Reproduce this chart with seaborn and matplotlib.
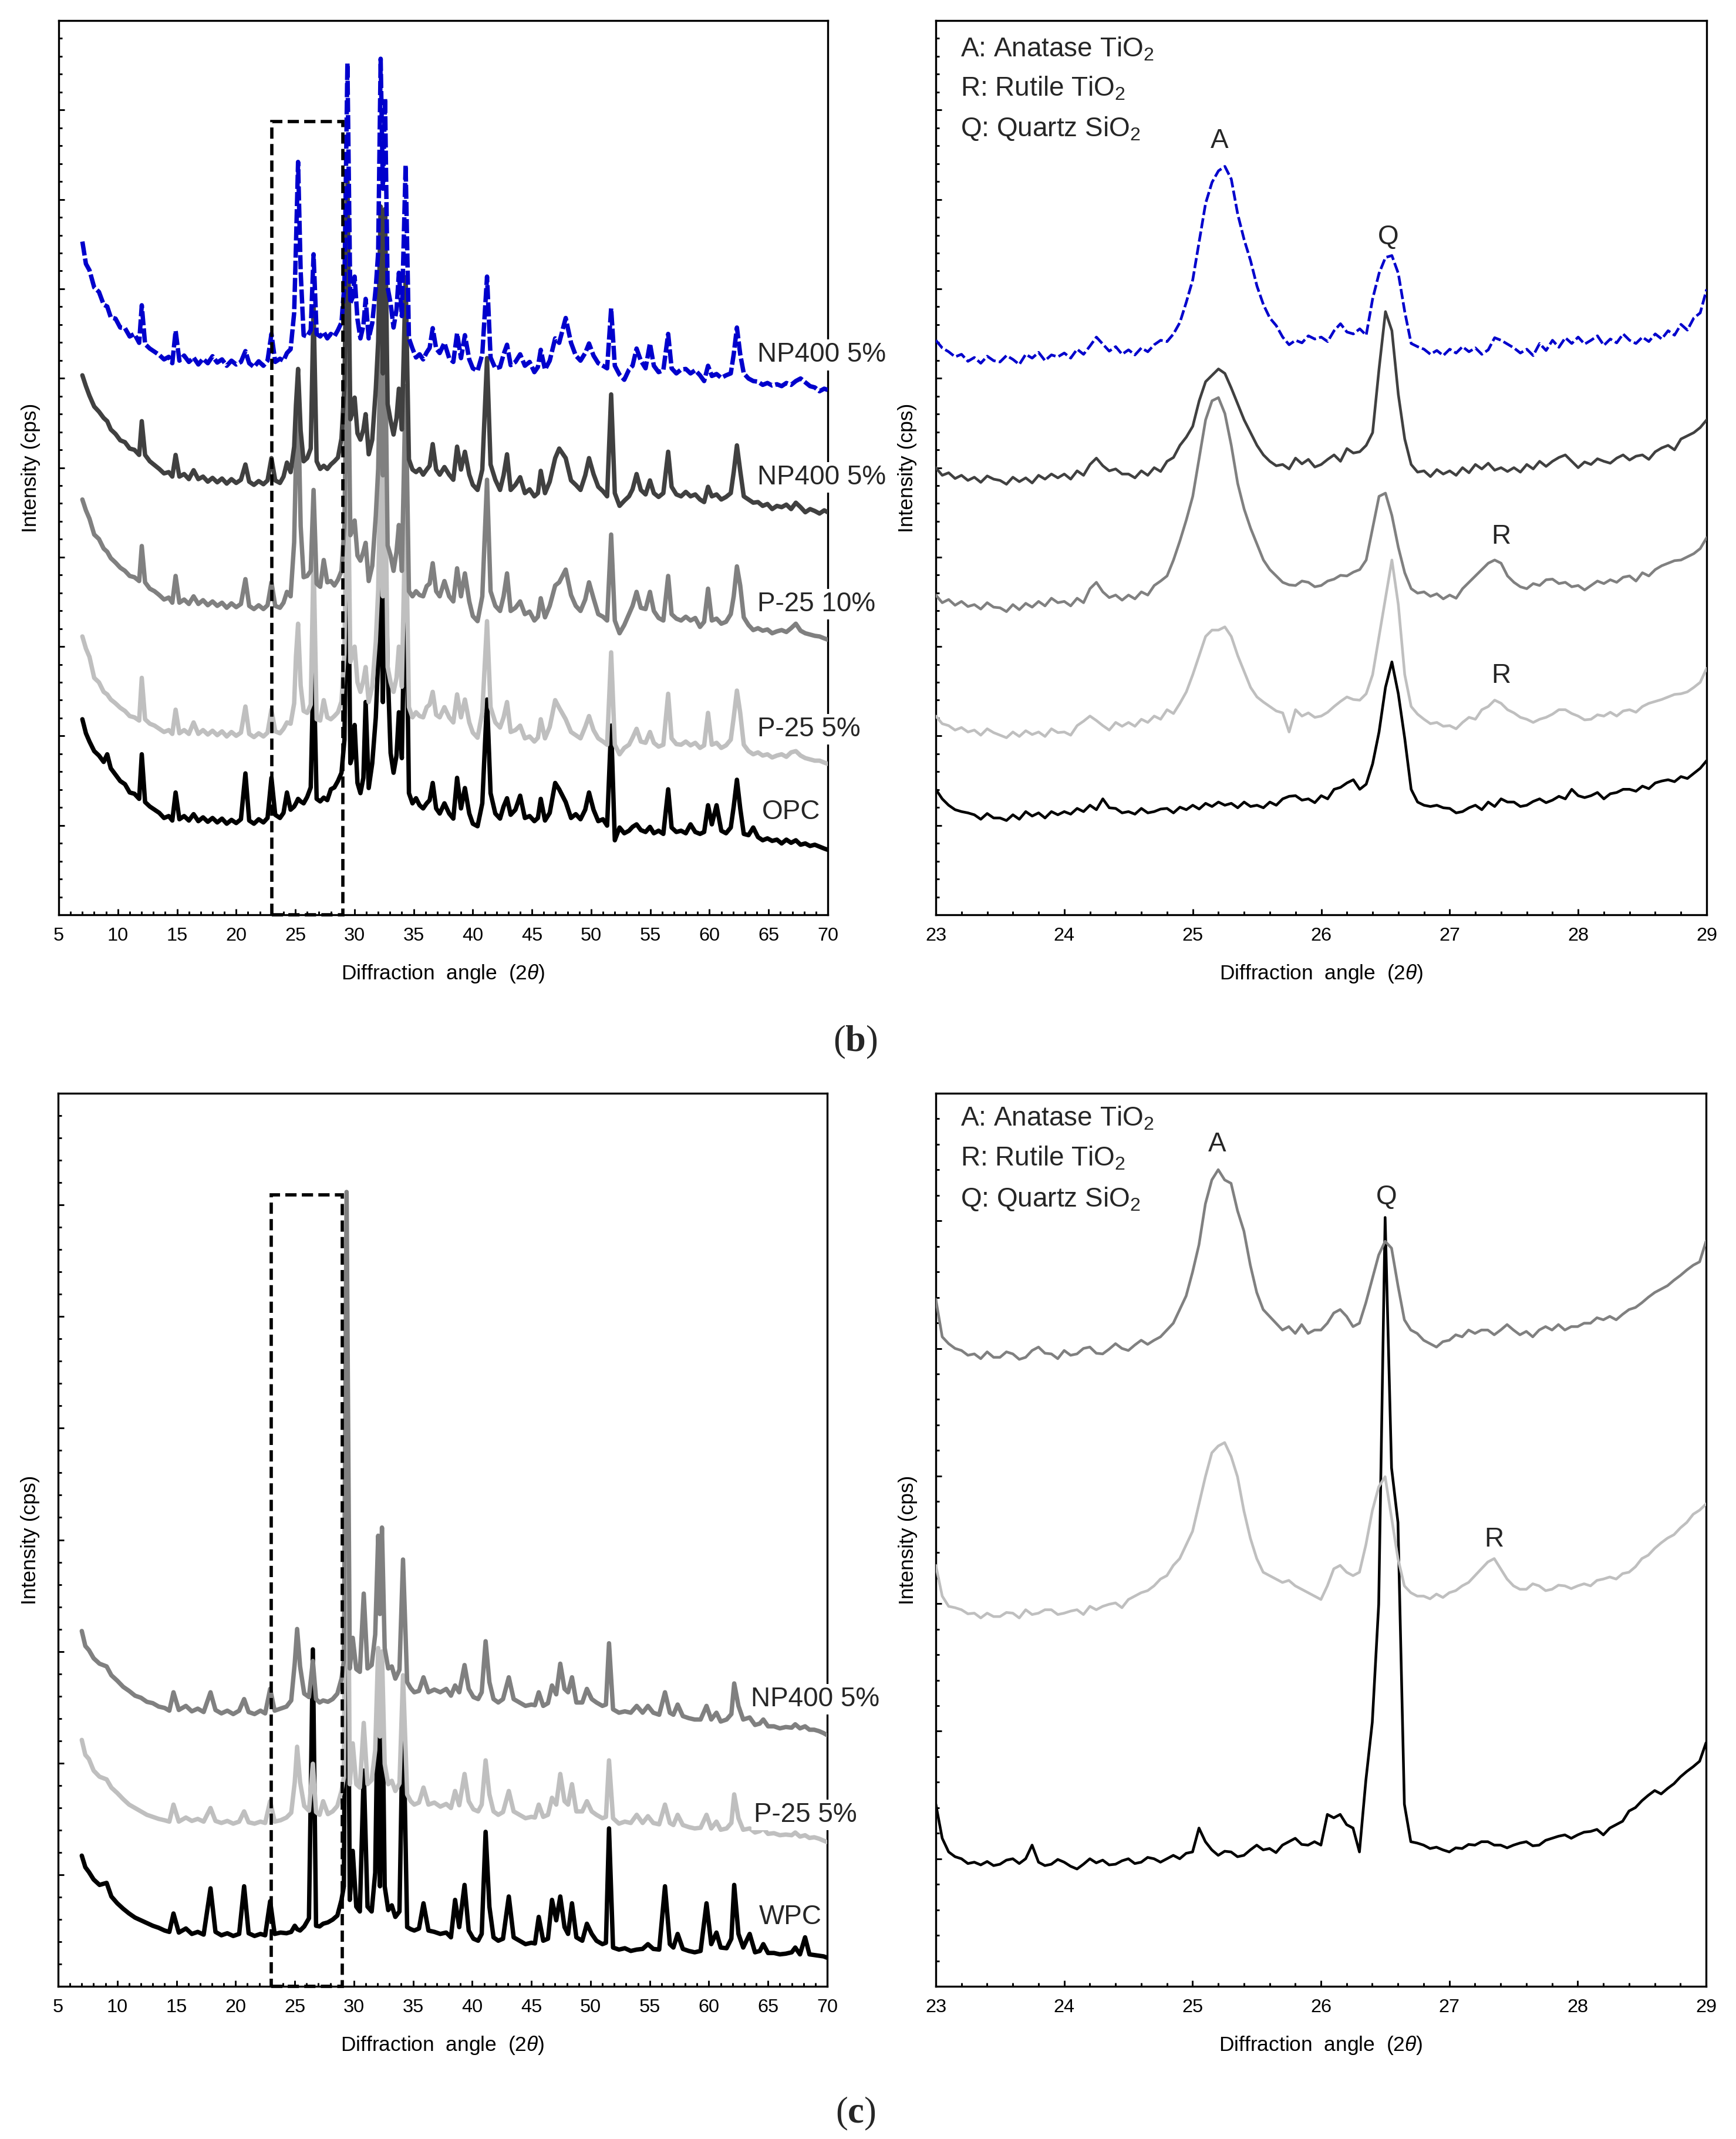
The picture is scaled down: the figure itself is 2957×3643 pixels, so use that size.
import numpy as np
import pandas as pd
import matplotlib
matplotlib.use("Agg")
import matplotlib.pyplot as plt
from matplotlib.ticker import MultipleLocator
from matplotlib.patches import Rectangle
import seaborn as sns

# ---------------------------------------------------------------- data
# (b) full scan, 2-theta positions shared by the five patterns
TL_X = [7.0, 7.3, 7.6, 8.0, 8.4, 8.8, 9.1, 9.4, 9.8, 10.2,
        10.6, 11.0, 11.4, 11.8, 12.02, 12.3, 12.7, 13.1, 13.5, 13.9,
        14.3, 14.6, 14.88, 15.2, 15.6, 16.0, 16.4, 16.8, 17.2, 17.6,
        18.0, 18.4, 18.8, 19.2, 19.6, 20.0, 20.4, 20.78, 21.1, 21.5,
        21.9, 22.3, 22.65, 22.98, 23.3, 23.7, 24.0, 24.29, 24.6, 24.9,
        25.05, 25.23, 25.45, 25.7, 26.0, 26.3, 26.54, 26.8, 27.1, 27.4,
        27.7, 28.0, 28.3, 28.6, 28.9, 29.15, 29.4, 29.65, 29.85, 30.01,
        30.25, 30.5, 30.75, 30.94, 31.2, 31.5, 31.8, 32.0, 32.21, 32.4,
        32.58, 32.8, 33.05, 33.3, 33.55, 33.75, 34.0, 34.32, 34.6, 34.9,
        35.2, 35.5, 35.8, 36.1, 36.35, 36.61, 36.9, 37.2, 37.6, 38.0,
        38.35, 38.67, 39.0, 39.33, 39.7, 40.0, 40.4, 40.8, 41.2, 41.5,
        41.9, 42.3, 42.6, 42.89, 43.2, 43.6, 44.0, 44.4, 44.8, 45.2,
        45.5, 45.74, 46.1, 46.5, 46.96, 47.3, 47.85, 48.3, 48.7, 49.1,
        49.5, 49.82, 50.2, 50.6, 51.0, 51.35, 51.69, 52.0, 52.4, 52.8,
        53.2, 53.5, 53.84, 54.2, 54.6, 54.97, 55.3, 55.7, 56.1, 56.51,
        56.8, 57.2, 57.6, 58.0, 58.4, 58.8, 59.2, 59.55, 59.88, 60.2,
        60.6, 61.0, 61.4, 61.8, 62.05, 62.32, 62.6, 62.9, 63.3, 63.7,
        64.1, 64.5, 64.9, 65.3, 65.7, 66.1, 66.5, 66.9, 67.3, 67.7,
        68.1, 68.5, 68.9, 69.3, 69.7, 70.0]

TL_NP400_A = [1057, 1022, 1012, 985, 978, 958, 955, 938, 936, 922,
              921, 908, 912, 898, 957, 896, 889, 884, 879, 872,
              876, 866, 917, 870, 878, 868, 875, 864, 873, 866,
              877, 867, 872, 862, 870, 864, 868, 885, 866, 860,
              869, 862, 870, 912, 868, 873, 870, 882, 888, 945,
              1050, 1182, 1010, 910, 908, 918, 1037, 912, 908, 915,
              905, 912, 908, 918, 930, 990, 1337, 960, 970, 1002,
              935, 905, 925, 967, 905, 929, 985, 1040, 1344, 1140,
              1282, 985, 960, 922, 950, 1008, 940, 1177, 905, 889,
              875, 880, 872, 883, 890, 921, 889, 882, 898, 874,
              868, 913, 874, 910, 872, 858, 854, 880, 1002, 875,
              858, 860, 880, 895, 863, 868, 880, 862, 868, 852,
              860, 887, 856, 870, 905, 898, 937, 898, 878, 870,
              882, 897, 878, 866, 862, 858, 952, 862, 848, 840,
              856, 862, 889, 870, 858, 897, 862, 852, 855, 912,
              858, 850, 856, 857, 850, 855, 847, 838, 862, 846,
              849, 843, 847, 850, 880, 922, 880, 850, 842, 838,
              837, 832, 835, 831, 833, 830, 835, 832, 838, 842,
              836, 830, 828, 822, 826, 824]

TL_NP400_B = [847, 830, 815, 798, 790, 780, 775, 762, 755, 745,
              742, 732, 730, 722, 775, 722, 712, 706, 700, 693,
              695, 688, 722, 688, 692, 684, 698, 684, 688, 680,
              686, 679, 685, 677, 684, 678, 683, 707, 680, 675,
              681, 676, 682, 717, 682, 678, 688, 710, 695, 735,
              800, 857, 760, 712, 717, 732, 955, 712, 700, 705,
              700, 707, 712, 718, 748, 830, 1159, 778, 790, 812,
              756, 746, 762, 786, 723, 746, 826, 900, 1112, 850,
              1108, 802, 776, 754, 780, 826, 762, 1001, 715, 699,
              695, 700, 691, 699, 705, 739, 699, 691, 703, 691,
              683, 735, 699, 727, 691, 675, 667, 699, 874, 707,
              683, 667, 690, 723, 667, 675, 687, 662, 668, 657,
              662, 697, 662, 680, 717, 732, 717, 682, 675, 667,
              690, 717, 692, 672, 665, 657, 817, 662, 642, 650,
              657, 668, 692, 667, 660, 682, 662, 656, 662, 727,
              672, 660, 657, 664, 657, 660, 652, 648, 672, 657,
              660, 652, 656, 662, 695, 737, 697, 657, 652, 647,
              648, 642, 645, 637, 642, 640, 644, 637, 647, 640,
              632, 637, 634, 630, 635, 632]

TL_P25_10 = [652, 635, 622, 597, 590, 575, 570, 560, 553, 545,
             540, 532, 530, 524, 579, 522, 512, 508, 502, 495,
             498, 490, 532, 490, 495, 488, 500, 488, 494, 486,
             492, 485, 490, 482, 489, 483, 488, 527, 485, 480,
             486, 480, 486, 522, 485, 482, 490, 507, 500, 585,
             717, 807, 610, 530, 532, 540, 667, 520, 515, 557,
             522, 524, 517, 526, 540, 610, 970, 596, 605, 619,
             564, 556, 570, 584, 524, 548, 627, 700, 900, 690,
             910, 580, 564, 540, 570, 612, 540, 830, 508, 500,
             508, 502, 500, 516, 520, 552, 508, 500, 524, 500,
             492, 544, 500, 536, 492, 469, 461, 500, 683, 508,
             485, 477, 500, 536, 477, 482, 492, 472, 476, 462,
             468, 497, 467, 485, 517, 522, 542, 502, 485, 477,
             495, 522, 497, 472, 468, 462, 597, 462, 442, 455,
             472, 485, 507, 482, 480, 507, 477, 466, 462, 532,
             472, 465, 462, 468, 462, 466, 452, 460, 512, 462,
             465, 457, 460, 472, 500, 547, 517, 467, 455, 447,
             450, 446, 448, 442, 445, 447, 444, 450, 457, 446,
             442, 440, 438, 437, 434, 432]

TL_P25_5 = [437, 418, 405, 372, 365, 350, 346, 338, 332, 325,
            320, 312, 310, 305, 372, 307, 300, 297, 292, 287,
            290, 284, 322, 285, 290, 284, 302, 284, 290, 283,
            289, 282, 288, 280, 287, 281, 286, 327, 284, 279,
            285, 280, 286, 322, 288, 285, 292, 302, 300, 332,
            405, 457, 360, 320, 317, 330, 562, 307, 305, 337,
            310, 307, 312, 318, 335, 410, 760, 397, 410, 421,
            365, 350, 368, 389, 334, 358, 429, 510, 720, 500,
            720, 389, 365, 350, 372, 421, 358, 650, 326, 310,
            318, 312, 310, 326, 330, 350, 314, 310, 326, 310,
            302, 346, 310, 338, 302, 286, 278, 318, 461, 326,
            302, 294, 310, 334, 287, 290, 297, 277, 280, 272,
            278, 307, 277, 295, 337, 325, 307, 287, 282, 277,
            295, 312, 290, 277, 272, 267, 412, 267, 252, 262,
            267, 278, 292, 272, 270, 287, 270, 264, 267, 347,
            277, 268, 267, 272, 266, 270, 262, 266, 317, 267,
            270, 262, 266, 275, 310, 352, 317, 267, 257, 252,
            255, 250, 252, 247, 250, 252, 248, 255, 257, 250,
            246, 244, 242, 242, 239, 237]

TL_OPC = [307, 285, 272, 257, 250, 240, 252, 230, 220, 210,
          205, 192, 190, 182, 252, 177, 170, 165, 160, 152,
          155, 148, 192, 150, 155, 148, 158, 147, 153, 146,
          152, 145, 151, 143, 149, 144, 150, 222, 148, 143,
          150, 145, 152, 215, 157, 152, 160, 192, 165, 170,
          175, 182, 178, 175, 185, 200, 397, 182, 178, 184,
          180, 197, 200, 210, 223, 275, 690, 238, 250, 298,
          207, 191, 215, 334, 199, 238, 310, 400, 560, 334,
          600, 389, 254, 223, 250, 318, 246, 580, 191, 175,
          183, 172, 167, 175, 180, 207, 167, 159, 175, 159,
          151, 215, 167, 199, 159, 143, 139, 175, 338, 191,
          159, 151, 170, 183, 157, 165, 187, 152, 155, 147,
          152, 182, 148, 160, 207, 197, 177, 152, 158, 150,
          165, 192, 165, 147, 150, 140, 297, 117, 137, 128,
          132, 138, 142, 133, 130, 138, 128, 132, 127, 197,
          137, 130, 132, 128, 142, 130, 127, 130, 172, 142,
          172, 132, 128, 137, 170, 212, 167, 127, 125, 137,
          122, 117, 120, 116, 118, 112, 118, 113, 117, 110,
          112, 108, 110, 107, 104, 102]

# (b) zoom 23-29 deg, scan step 0.05 deg
ZOOM_X = np.round(np.arange(23.0, 29.0001, 0.05), 2)

TR_NP400_A = [902, 890, 884, 876, 880, 869, 875, 866, 877, 870,
              868, 878, 872, 864, 880, 874, 883, 870, 879, 876,
              882, 874, 888, 880, 893, 907, 896, 885, 892, 880,
              887, 879, 890, 884, 895, 902, 900, 912, 930, 962,
              997, 1057, 1117, 1150, 1168, 1175, 1155, 1100, 1060, 1027,
              987, 958, 937, 925, 907, 895, 902, 898, 909, 904,
              907, 900, 917, 928, 915, 912, 920, 910, 967, 1007,
              1032, 1035, 1007, 947, 897, 892, 888, 880, 886, 878,
              888, 882, 892, 884, 890, 880, 887, 906, 902, 896,
              890, 882, 888, 878, 897, 886, 902, 891, 906, 897,
              907, 896, 902, 909, 894, 904, 898, 912, 902, 897,
              907, 900, 912, 904, 917, 910, 927, 918, 937, 945,
              982]

TR_NP400_B = [702, 690, 694, 685, 690, 682, 687, 679, 689, 684,
              682, 676, 687, 680, 686, 678, 690, 684, 692, 686,
              692, 684, 697, 690, 707, 717, 705, 697, 700, 692,
              692, 686, 697, 690, 702, 696, 712, 718, 737, 750,
              767, 807, 837, 847, 857, 850, 827, 802, 777, 757,
              737, 722, 712, 705, 707, 700, 717, 708, 715, 703,
              707, 715, 722, 712, 732, 725, 727, 737, 757, 857,
              947, 917, 817, 747, 707, 695, 697, 688, 699, 692,
              697, 690, 702, 694, 707, 700, 709, 698, 702, 696,
              702, 695, 707, 700, 712, 704, 712, 718, 722, 712,
              702, 711, 707, 716, 712, 709, 717, 722, 714, 720,
              722, 715, 727, 733, 737, 730, 747, 752, 757, 765,
              777]

TR_P25_10 = [502, 490, 495, 486, 492, 484, 487, 480, 490, 483,
             482, 476, 487, 479, 489, 483, 492, 485, 497, 490,
             492, 485, 497, 490, 512, 522, 507, 498, 502, 494,
             502, 496, 507, 502, 517, 524, 532, 557, 587, 620,
             657, 717, 777, 807, 812, 787, 737, 677, 637, 607,
             582, 557, 542, 532, 522, 518, 517, 524, 522, 515,
             517, 524, 527, 533, 532, 538, 542, 557, 607, 657,
             662, 627, 577, 537, 512, 505, 507, 500, 504, 496,
             502, 497, 512, 522, 532, 542, 552, 557, 552, 532,
             522, 515, 512, 520, 517, 526, 527, 520, 522, 515,
             517, 510, 517, 524, 520, 526, 522, 530, 532, 524,
             537, 532, 542, 548, 552, 556, 557, 562, 567, 575,
             592]

TR_P25_5 = [312, 300, 297, 290, 294, 287, 290, 282, 292, 286,
            282, 278, 287, 280, 289, 283, 287, 280, 292, 286,
            287, 282, 297, 304, 312, 305, 297, 290, 302, 296,
            302, 296, 307, 302, 312, 307, 322, 316, 332, 350,
            377, 407, 437, 447, 447, 452, 437, 407, 382, 357,
            342, 334, 327, 320, 317, 287, 322, 312, 317, 310,
            312, 318, 327, 335, 342, 338, 337, 347, 377, 437,
            497, 557, 487, 377, 327, 315, 307, 300, 302, 296,
            297, 292, 302, 310, 307, 322, 327, 337, 332, 322,
            317, 310, 307, 302, 307, 310, 315, 322, 322, 316,
            312, 306, 307, 314, 312, 318, 312, 320, 322, 318,
            327, 332, 335, 338, 342, 346, 347, 350, 357, 365,
            387]

TR_OPC = [197, 182, 172, 165, 162, 160, 157, 150, 159, 152,
          152, 148, 157, 150, 162, 155, 160, 152, 162, 157,
          162, 158, 167, 162, 172, 165, 182, 168, 167, 160,
          162, 158, 167, 160, 162, 166, 167, 160, 169, 165,
          172, 166, 175, 170, 177, 172, 175, 168, 177, 170,
          172, 168, 177, 172, 182, 186, 187, 180, 182, 176,
          187, 182, 197, 200, 207, 212, 197, 205, 237, 287,
          357, 397, 347, 277, 197, 177, 172, 170, 172, 168,
          167, 160, 162, 168, 172, 165, 177, 170, 182, 177,
          177, 170, 172, 178, 182, 176, 180, 186, 182, 197,
          187, 184, 187, 192, 182, 190, 192, 197, 197, 194,
          202, 198, 207, 210, 212, 209, 217, 214, 222, 230,
          242]

# (c) full scan
BL_X = [7.0, 7.3, 7.6, 8.0, 8.5, 9.1, 9.5, 10.0, 10.5, 11.0,
        11.5, 12.0, 12.5, 13.0, 13.5, 14.0, 14.4, 14.75, 15.2, 15.8,
        16.3, 16.8, 17.3, 17.88, 18.3, 18.8, 19.3, 19.8, 20.3, 20.72,
        21.1, 21.6, 22.1, 22.5, 22.92, 23.3, 23.8, 24.3, 24.7, 25.0,
        25.2, 25.45, 25.8, 26.2, 26.53, 26.8, 27.1, 27.4, 27.8, 28.2,
        28.6, 28.95, 29.15, 29.38, 29.65, 29.9, 30.2, 30.5, 30.83, 31.15,
        31.5, 31.8, 32.05, 32.2, 32.37, 32.6, 32.9, 33.2, 33.5, 33.85,
        34.15, 34.5, 34.8, 35.1, 35.5, 35.88, 36.3, 36.8, 37.3, 37.8,
        38.2, 38.55, 38.9, 39.35, 39.7, 40.1, 40.5, 40.8, 41.13, 41.45,
        41.8, 42.2, 42.6, 43.09, 43.5, 44.0, 44.5, 45.0, 45.3, 45.62,
        46.0, 46.4, 46.74, 47.1, 47.44, 47.8, 48.1, 48.43, 48.8, 49.3,
        49.69, 50.1, 50.5, 51.0, 51.3, 51.56, 51.9, 52.4, 52.9, 53.4,
        53.9, 54.4, 54.85, 55.3, 55.8, 56.29, 56.7, 57.0, 57.36, 57.8,
        58.3, 58.8, 59.3, 59.8, 60.2, 60.64, 61.0, 61.5, 61.9, 62.14,
        62.5, 62.9, 63.45, 63.9, 64.3, 64.6, 65.0, 65.5, 66.0, 66.5,
        67.0, 67.3, 67.7, 68.13, 68.5, 68.9, 69.3, 69.7, 70.0]

BL_NP400 = [522, 500, 494, 482, 474, 470, 457, 449, 440, 434,
            427, 424, 418, 416, 411, 409, 405, 432, 406, 412,
            404, 408, 403, 432, 406, 401, 405, 400, 405, 422,
            403, 400, 405, 401, 437, 405, 408, 411, 420, 475,
            525, 470, 430, 425, 478, 422, 417, 420, 418, 422,
            430, 452, 478, 1167, 467, 512, 466, 462, 577, 467,
            472, 517, 662, 547, 674, 497, 467, 470, 452, 465,
            627, 447, 438, 432, 434, 454, 432, 436, 432, 437,
            427, 442, 432, 472, 437, 425, 422, 432, 507, 447,
            422, 417, 422, 454, 422, 417, 412, 414, 413, 432,
            412, 416, 442, 429, 474, 437, 432, 454, 417, 417,
            437, 422, 417, 412, 414, 504, 407, 402, 404, 402,
            412, 402, 412, 402, 399, 432, 402, 399, 414, 397,
            394, 392, 392, 412, 392, 402, 389, 392, 400, 445,
            412, 392, 395, 384, 386, 392, 382, 382, 379, 381,
            380, 385, 379, 382, 377, 377, 375, 372, 369]

BL_P25_5 = [362, 340, 334, 317, 308, 304, 292, 284, 275, 267,
            262, 257, 252, 249, 246, 244, 242, 267, 242, 248,
            243, 246, 242, 262, 243, 240, 243, 239, 242, 257,
            241, 239, 242, 240, 272, 242, 244, 248, 255, 300,
            352, 300, 265, 258, 327, 256, 252, 272, 253, 257,
            265, 287, 307, 1000, 297, 357, 297, 292, 387, 297,
            303, 347, 497, 367, 492, 327, 297, 302, 287, 298,
            457, 282, 272, 267, 270, 292, 267, 270, 264, 268,
            262, 287, 266, 312, 272, 260, 257, 267, 332, 282,
            257, 252, 256, 287, 257, 252, 247, 249, 248, 267,
            249, 252, 277, 267, 312, 272, 267, 297, 257, 257,
            272, 257, 252, 247, 249, 332, 247, 239, 242, 240,
            252, 240, 250, 240, 238, 267, 240, 237, 252, 237,
            234, 232, 233, 252, 232, 242, 230, 232, 240, 282,
            247, 230, 232, 226, 228, 232, 224, 225, 222, 223,
            222, 226, 220, 222, 218, 219, 217, 214, 212]

BL_WPC = [192, 175, 168, 157, 149, 152, 132, 122, 114, 107,
          101, 97, 93, 89, 86, 82, 80, 107, 79, 85,
          77, 80, 76, 144, 80, 75, 78, 74, 77, 147,
          78, 74, 77, 75, 125, 77, 79, 78, 80, 89,
          84, 82, 88, 100, 495, 89, 88, 92, 94, 98,
          104, 127, 147, 850, 127, 199, 117, 110, 317, 117,
          110, 167, 467, 147, 477, 147, 112, 119, 102, 110,
          412, 87, 84, 82, 85, 122, 82, 80, 77, 79,
          72, 127, 87, 149, 82, 70, 67, 77, 227, 117,
          72, 67, 70, 132, 72, 67, 62, 64, 63, 102,
          67, 70, 127, 97, 132, 87, 77, 122, 72, 67,
          92, 77, 67, 62, 64, 232, 57, 54, 56, 52,
          54, 55, 62, 55, 54, 147, 62, 57, 77, 55,
          52, 50, 52, 122, 62, 79, 57, 56, 70, 149,
          77, 57, 77, 50, 52, 62, 49, 49, 47, 48,
          50, 57, 47, 72, 47, 46, 45, 44, 42]

# (c) zoom 23-29 deg
BR_NP400 = [1007, 952, 942, 935, 932, 925, 927, 920, 930, 922,
            922, 930, 927, 919, 922, 932, 937, 928, 927, 920,
            932, 925, 927, 935, 937, 928, 927, 934, 942, 935,
            932, 940, 947, 941, 947, 952, 962, 972, 992, 1012,
            1047, 1087, 1147, 1182, 1197, 1182, 1177, 1137, 1107, 1057,
            1017, 992, 982, 972, 962, 967, 957, 970, 957, 962,
            962, 972, 987, 992, 982, 967, 972, 1002, 1037, 1072,
            1092, 1082, 1027, 977, 962, 957, 947, 942, 937, 945,
            947, 955, 952, 962, 957, 962, 962, 955, 962, 970,
            962, 955, 960, 952, 962, 967, 962, 970, 962, 967,
            967, 972, 972, 980, 977, 982, 977, 985, 992, 995,
            1002, 1010, 1017, 1022, 1027, 1035, 1042, 1050, 1057, 1062,
            1092]

BR_P25_5 = [617, 572, 557, 555, 552, 546, 547, 540, 547, 542,
            542, 548, 547, 540, 552, 545, 547, 552, 552, 545,
            547, 550, 552, 545, 557, 552, 557, 560, 562, 555,
            567, 572, 577, 580, 587, 597, 602, 617, 627, 647,
            667, 707, 747, 782, 792, 797, 777, 747, 697, 657,
            627, 607, 602, 597, 592, 595, 587, 582, 577, 572,
            567, 587, 612, 617, 607, 602, 607, 647, 697, 732,
            747, 687, 627, 587, 577, 572, 572, 568, 575, 570,
            577, 580, 587, 592, 602, 612, 622, 627, 612, 597,
            587, 582, 582, 590, 587, 580, 582, 588, 587, 583,
            587, 590, 587, 595, 597, 600, 597, 605, 607, 615,
            627, 632, 642, 650, 657, 662, 672, 680, 692, 698,
            707]

BR_WPC = [267, 217, 197, 190, 187, 180, 182, 178, 183, 177,
          179, 185, 187, 180, 187, 207, 182, 177, 179, 186,
          182, 176, 172, 179, 187, 181, 185, 178, 179, 184,
          187, 180, 182, 189, 187, 182, 187, 192, 187, 195,
          197, 232, 212, 200, 192, 198, 197, 190, 192, 200,
          207, 200, 202, 196, 207, 212, 217, 208, 207, 212,
          207, 252, 247, 252, 237, 232, 197, 302, 387, 560,
          1127, 760, 680, 267, 212, 210, 207, 202, 204, 200,
          197, 203, 202, 208, 207, 212, 212, 207, 207, 203,
          207, 210, 212, 206, 207, 214, 217, 220, 222, 217,
          222, 226, 227, 230, 222, 232, 237, 242, 257, 262,
          272, 280, 287, 282, 290, 297, 307, 315, 322, 330,
          357]

TL_LABELS = ["NP400 5%", "NP400 5%", "P-25 10%", "P-25 5%", "OPC"]
BL_LABELS = ["NP400 5%", "P-25 5%", "WPC"]
PHASE_KEY = ["A: Anatase TiO$_2$", "R: Rutile TiO$_2$", "Q: Quartz SiO$_2$"]

# ---------------------------------------------------------------- style
sns.set_theme(style="ticks")
plt.rcParams["font.family"] = ["Liberation Sans", "DejaVu Sans"]
plt.rcParams["mathtext.fontset"] = "custom"
plt.rcParams["mathtext.rm"] = "Liberation Sans"
plt.rcParams["mathtext.it"] = "Liberation Sans:italic"
plt.rcParams["mathtext.bf"] = "Liberation Serif:bold"
plt.rcParams["axes.facecolor"] = "white"
plt.rcParams["figure.facecolor"] = "white"

BLUE = "#0000CC"
DARK = "#404040"
MID = "#808080"
LIGHT = "#BFBFBF"
BLACK = "#000000"

W, H = 2957, 3643
fig = plt.figure(figsize=(W / 300, H / 300), dpi=300)


def frame(l, r, t, b):
    return [l / W, 1 - b / H, (r - l) / W, (b - t) / H]


ax_tl = fig.add_axes(frame(100, 1410, 35, 1558))
ax_tr = fig.add_axes(frame(1594, 2907, 35, 1558))
ax_bl = fig.add_axes(frame(99, 1409, 1862, 3383))
ax_br = fig.add_axes(frame(1594, 2906, 1862, 3383))


def draw(ax, x, series):
    for name, y, color, lw, ls, z in series:
        n = min(len(x), len(y))
        if len(x) != len(y):
            print("length mismatch", name, len(x), len(y))
        df = pd.DataFrame({"two_theta": list(x)[:n], "intensity": list(y)[:n]})
        sns.lineplot(data=df, x="two_theta", y="intensity", ax=ax, color=color,
                     linewidth=lw, linestyle=ls, estimator=None, sort=False,
                     zorder=z)


def style(ax, xlim, ylim, xmaj, xmin, ymaj, ymin):
    ax.set_xlim(*xlim)
    ax.set_ylim(*ylim)
    ax.xaxis.set_major_locator(MultipleLocator(xmaj))
    ax.xaxis.set_minor_locator(MultipleLocator(xmin))
    ax.yaxis.set_major_locator(MultipleLocator(ymaj))
    ax.yaxis.set_minor_locator(MultipleLocator(ymin))
    ax.tick_params(which="both", direction="in", top=False, right=False,
                   left=True, bottom=True, labelleft=False, width=0.7,
                   color="black")
    ax.tick_params(which="major", length=2.3)
    ax.tick_params(which="minor", length=1.4)
    ax.tick_params(axis="x", labelsize=7.8, pad=5, labelcolor="black")
    for s in ax.spines.values():
        s.set_visible(True)
        s.set_linewidth(0.8)
        s.set_color("black")
    ax.grid(False)
    ax.set_xlabel("Diffraction  angle  (2$\\theta$)", fontsize=8.5, color="black")
    ax.xaxis.set_label_coords(0.5, -0.054)
    ax.set_ylabel("Intensity (cps)", fontsize=8.5, color="black")
    ax.yaxis.set_label_coords(-0.024, 0.5)


LW_L = 1.8
LW_R = 1.1
DASH_BLUE_L = (0, (3.2, 0.7))
DASH_BLUE_R = (0, (3.8, 1.2))
RECT_DASH = (0, (3.4, 1.6))

# (b) full
draw(ax_tl, TL_X, [
    ("OPC", TL_OPC, BLACK, LW_L, "-", 2),
    ("P25_5", TL_P25_5, LIGHT, LW_L, "-", 3),
    ("P25_10", TL_P25_10, MID, LW_L, "-", 4),
    ("NP400_B", TL_NP400_B, DARK, LW_L, "-", 5),
    ("NP400_A", TL_NP400_A, BLUE, LW_L, DASH_BLUE_L, 6),
])
style(ax_tl, (5, 70), (0, 1404), 5, 1, 140.4, 28.08)
ax_tl.add_patch(Rectangle((23, 0), 6, 1245, fill=False, edgecolor="black",
                          linewidth=1.35, linestyle=RECT_DASH, zorder=8,
                          clip_on=False))
for lab, xx, yy in zip(TL_LABELS, [64.05, 64.05, 64.05, 64.05, 64.45],
                       [879, 687, 488, 291, 161]):
    ax_tl.text(xx, yy, lab, fontsize=11, ha="left", va="center", zorder=10,
               clip_on=False,
               bbox=dict(facecolor="white", edgecolor="none", pad=1.0))

# (b) zoom
draw(ax_tr, ZOOM_X, [
    ("OPC", TR_OPC, BLACK, LW_R, "-", 2),
    ("P25_5", TR_P25_5, LIGHT, LW_R, "-", 3),
    ("P25_10", TR_P25_10, MID, LW_R, "-", 4),
    ("NP400_B", TR_NP400_B, DARK, LW_R, "-", 5),
    ("NP400_A", TR_NP400_A, BLUE, LW_R, DASH_BLUE_R, 6),
])
style(ax_tr, (23, 29), (0, 1404), 1, 0.2, 140.4, 28.08)
for txt, yy in zip(PHASE_KEY, [1359, 1297, 1234]):
    ax_tr.text(23.19, yy, txt, fontsize=11, ha="left", va="center")
for txt, xx, yy in [("A", 25.21, 1215), ("Q", 26.52, 1064),
                    ("R", 27.40, 594), ("R", 27.40, 375)]:
    ax_tr.text(xx, yy, txt, fontsize=11, ha="center", va="center")

# (c) full
draw(ax_bl, BL_X, [
    ("WPC", BL_WPC, BLACK, LW_L, "-", 2),
    ("P25_5", BL_P25_5, LIGHT, LW_L, "-", 3),
    ("NP400", BL_NP400, MID, LW_L, "-", 4),
])
style(ax_bl, (5, 70), (0, 1312), 5, 1, 164, 32.8)
ax_bl.add_patch(Rectangle((23, 0), 6, 1163, fill=False, edgecolor="black",
                          linewidth=1.35, linestyle=RECT_DASH, zorder=8,
                          clip_on=False))
for lab, xx, yy in zip(BL_LABELS, [63.55, 63.8, 64.25], [422, 252, 102]):
    ax_bl.text(xx, yy, lab, fontsize=11, ha="left", va="center", zorder=10,
               clip_on=False,
               bbox=dict(facecolor="white", edgecolor="none", pad=1.0))

# (c) zoom
draw(ax_br, ZOOM_X, [
    ("WPC", BR_WPC, BLACK, LW_R, "-", 2),
    ("P25_5", BR_P25_5, LIGHT, LW_R, "-", 3),
    ("NP400", BR_NP400, MID, LW_R, "-", 4),
])
style(ax_br, (23, 29), (0, 1309), 1, 0.2, 187, 37.4)
for txt, yy in zip(PHASE_KEY, [1272, 1214, 1154]):
    ax_br.text(23.19, yy, txt, fontsize=11, ha="left", va="center")
for txt, xx, yy in [("A", 25.19, 1234), ("Q", 26.51, 1157), ("R", 27.35, 655)]:
    ax_br.text(xx, yy, txt, fontsize=11, ha="center", va="center")

# panel letters
fig.text(1457 / W, 1 - 1775 / H, "($\\mathbf{b}$)", fontsize=15,
         family=["Liberation Serif", "DejaVu Serif"], ha="center", va="center")
fig.text(1457 / W, 1 - 3600 / H, "($\\mathbf{c}$)", fontsize=15,
         family=["Liberation Serif", "DejaVu Serif"], ha="center", va="center")

fig.savefig("out.png", dpi=300, facecolor="white")
